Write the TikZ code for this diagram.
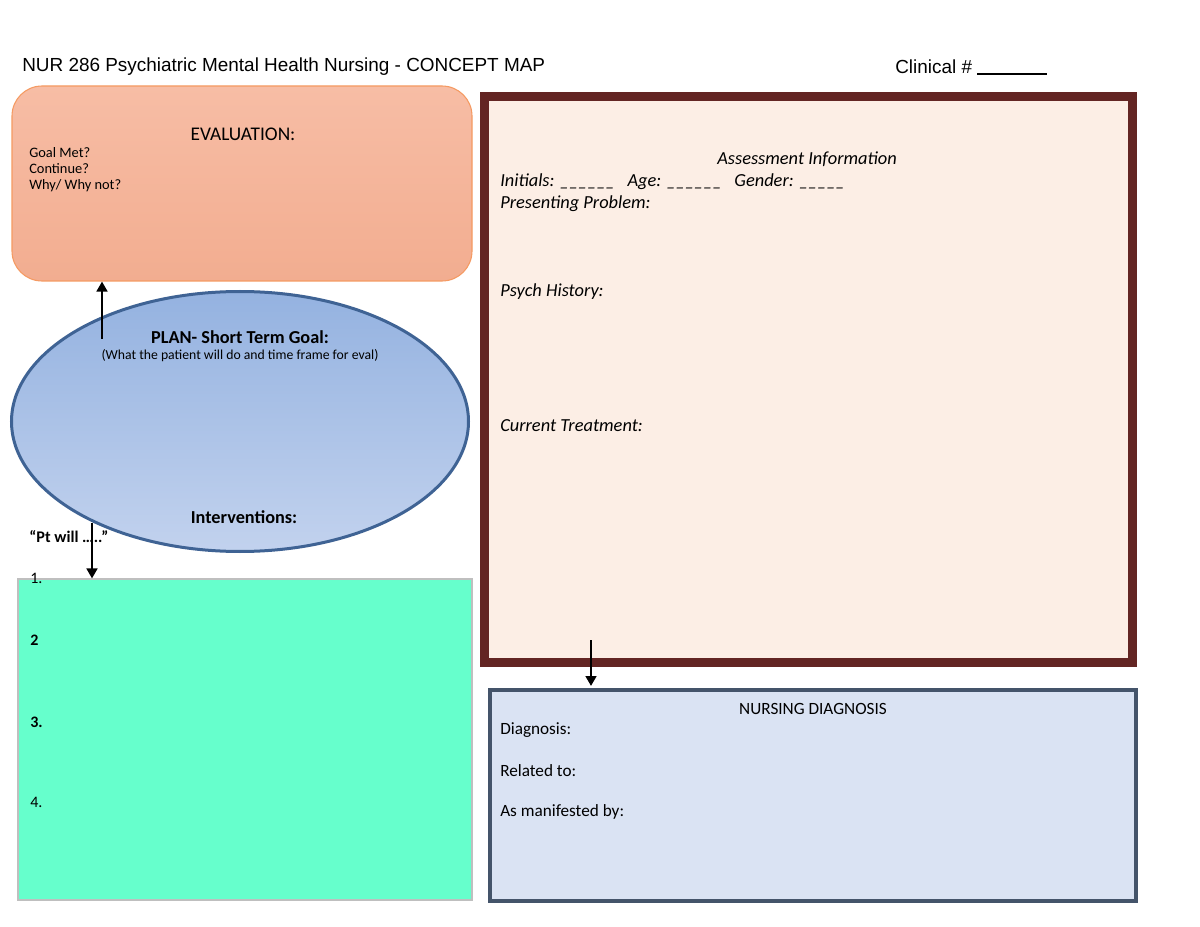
\documentclass[tikz,border=0pt]{standalone}
\usepackage{fontspec}
\setmainfont{Carlito}
\newfontfamily\arialf{Liberation Sans}
\usetikzlibrary{arrows.meta,shapes.geometric}
\definecolor{evalfillA}{HTML}{F7BDA5}
\definecolor{evalfillB}{HTML}{F2AD90}
\definecolor{evaldraw}{HTML}{F59A62}
\definecolor{ellA}{HTML}{94B2E0}
\definecolor{ellB}{HTML}{C2D2EE}
\definecolor{elldraw}{HTML}{3F6394}
\definecolor{greenfill}{HTML}{66FFCC}
\definecolor{greendraw}{HTML}{BFBFBF}
\definecolor{assessfill}{HTML}{FCEEE5}
\definecolor{assessdraw}{HTML}{632523}
\definecolor{nursefill}{HTML}{DAE3F3}
\definecolor{nursedraw}{HTML}{44546A}
\tikzset{
  evalbox/.style={rectangle, rounded corners=22.5pt, top color=evalfillA, bottom color=evalfillB, draw=evaldraw, line width=0.8pt, inner sep=0pt, minimum width=345pt, minimum height=146.25pt},
  planell/.style={ellipse, top color=ellA, bottom color=ellB, draw=elldraw, line width=2.25pt, inner sep=0pt, minimum width=342.75pt, minimum height=195pt},
  greenbox/.style={rectangle, fill=greenfill, draw=greendraw, line width=0.8pt, inner sep=0pt, minimum width=340.5pt, minimum height=240.75pt},
  assessbox/.style={rectangle, fill=assessfill, draw=assessdraw, line width=6.75pt, inner sep=0pt, minimum width=486pt, minimum height=424.5pt},
  nursebox/.style={rectangle, fill=nursefill, draw=nursedraw, line width=3pt, inner sep=0pt, minimum width=484.5pt, minimum height=158.25pt},
  lbl/.style={inner sep=0pt, anchor=west},
  ctr/.style={inner sep=0pt, anchor=center},
  conn/.style={line width=2pt, -{Triangle[length=7.5pt,width=8pt]}},
  title/.style={inner sep=0pt, anchor=west, font=\arialf\fontsize{14.2}{17}\selectfont},
  evfont/.style={font=\fontsize{14.5}{17}\selectfont},
  evsmall/.style={font=\fontsize{10.8}{13}\selectfont},
  planfont/.style={font=\bfseries\fontsize{13.7}{16}\selectfont},
  plansmall/.style={font=\fontsize{10.3}{12}\selectfont},
  ptfont/.style={font=\bfseries\fontsize{12.2}{14}\selectfont},
  numfont/.style={font=\fontsize{12}{14}\selectfont},
  asfont/.style={font=\itshape\fontsize{13.8}{16}\selectfont},
  ndfont/.style={font=\fontsize{12.9}{15}\selectfont}
}
\begin{document}
\begin{tikzpicture}[x=0.75pt,y=-0.75pt]
\useasboundingbox[fill=white] (0,0) rectangle (1200,927);
% title
\node[title] (t1) at (22,67) {NUR 286 Psychiatric Mental Health Nursing - CONCEPT MAP};
\node[title] (t2) at (895,67) {Clinical \# \rule[-1pt]{52pt}{0.9pt}};
% evaluation
\node[evalbox] (eval) at (242,183.5) {};
\node[ctr,evfont] (evt) at (243,134) {EVALUATION:};
\node[lbl,evsmall] (ev1) at (29,153) {Goal Met?};
\node[lbl,evsmall] (ev2) at (29,169) {Continue?};
\node[lbl,evsmall] (ev3) at (29,186) {Why/ Why not?};
% plan ellipse
\node[planell] (plan) at (240,421.5) {};
\node[ctr,planfont] (plt) at (240,337) {PLAN- Short Term Goal:};
\node[ctr,plansmall] (pls) at (240,356) {(What the patient will do and time frame for eval)};
\node[ctr,planfont] (int) at (244,517) {Interventions:};
\node[lbl,ptfont] (ptw) at (29,537) {“Pt will …..”};
% green box
\node[greenbox] (green) at (245,739.5) {};
\node[lbl,numfont] (n1) at (30,578) {1.};
\node[lbl,numfont] (n2) at (30,640) {\bfseries 2};
\node[lbl,numfont] (n3) at (30,722) {\bfseries 3.};
\node[lbl,numfont] (n4) at (30,802) {4.};
% assessment
\node[assessbox] (assess) at (808.5,379.5) {};
\node[ctr,asfont] (ast) at (807,159) {Assessment Information};
\node[lbl,asfont] (as1) at (500,182) {Initials: \_\_\_\_\_\_ \ \ Age: \_\_\_\_\_\_ \ \ Gender: \_\_\_\_\_};
\node[lbl,asfont] (as2) at (500,204) {Presenting Problem:};
\node[lbl,asfont] (as3) at (500,292) {Psych History:};
\node[lbl,asfont] (as4) at (500,426) {Current Treatment:};
% nursing diagnosis
\node[nursebox] (nurse) at (813,795.5) {};
\node[ctr,ndfont] (ndt) at (813,709) {NURSING DIAGNOSIS};
\node[lbl,ndfont] (nd1) at (500,730) {Diagnosis:};
\node[lbl,ndfont] (nd2) at (500,771) {Related to:};
\node[lbl,ndfont] (nd3) at (500,812) {As manifested by:};
% connectors
\coordinate (c1) at (102,339);
\coordinate (c2) at (92,523);
\coordinate (c3) at (591,640);
\draw[conn] (c1) -- (eval.south -| c1);
\draw[conn] (c2) -- (green.north -| c2);
\draw[conn] (c3) -- ([yshift=1.5pt]nurse.north -| c3);
\end{tikzpicture}
\end{document}
